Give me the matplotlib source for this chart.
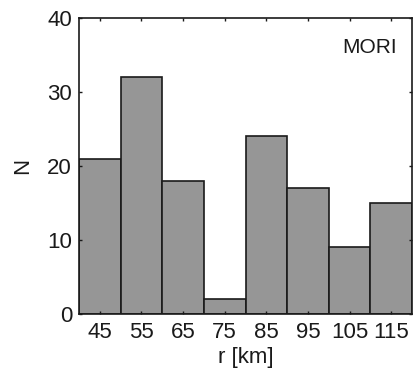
import matplotlib.pyplot as plt
import numpy as np

plt.rcParams["font.family"] = ["Liberation Sans", "DejaVu Sans"]

BIN_CENTRES_KM = [45, 55, 65, 75, 85, 95, 105, 115]
COUNTS = [21, 32, 18, 2, 24, 17, 9, 15]
TICK_LABELS = ["45", "55", "65", "75", "85", "95", "105", "115"]
STATION = "MORI"

fig = plt.figure(figsize=(4.14, 3.76), dpi=100)
ax = fig.add_axes([79 / 414, 1 - 314 / 376, 333 / 414, 296 / 376])

ax.bar(BIN_CENTRES_KM, COUNTS, width=10, color="#969696",
       edgecolor="#1a1a1a", linewidth=1.2)

ax.set_xlim(40, 120)
ax.set_ylim(0, 40)
ax.set_xticks(BIN_CENTRES_KM)
ax.set_xticklabels(TICK_LABELS)
ax.set_yticks([0, 10, 20, 30, 40])
ax.tick_params(direction="in", length=2.5, width=1, top=True, right=True,
               labelsize=16, colors="#1a1a1a")
ax.tick_params(axis="x", pad=6)
ax.tick_params(axis="y", pad=5)
for spine in ax.spines.values():
    spine.set_linewidth(1.2)
    spine.set_color("#1a1a1a")

ax.set_xlabel("r [km]", fontsize=16, labelpad=3, color="#1a1a1a")
ax.set_ylabel("N", fontsize=16, labelpad=10, color="#1a1a1a")
ax.text(0.955, 0.9, STATION, transform=ax.transAxes, ha="right", va="center",
        fontsize=15, color="#1a1a1a")

fig.savefig("out.png", dpi=100)
